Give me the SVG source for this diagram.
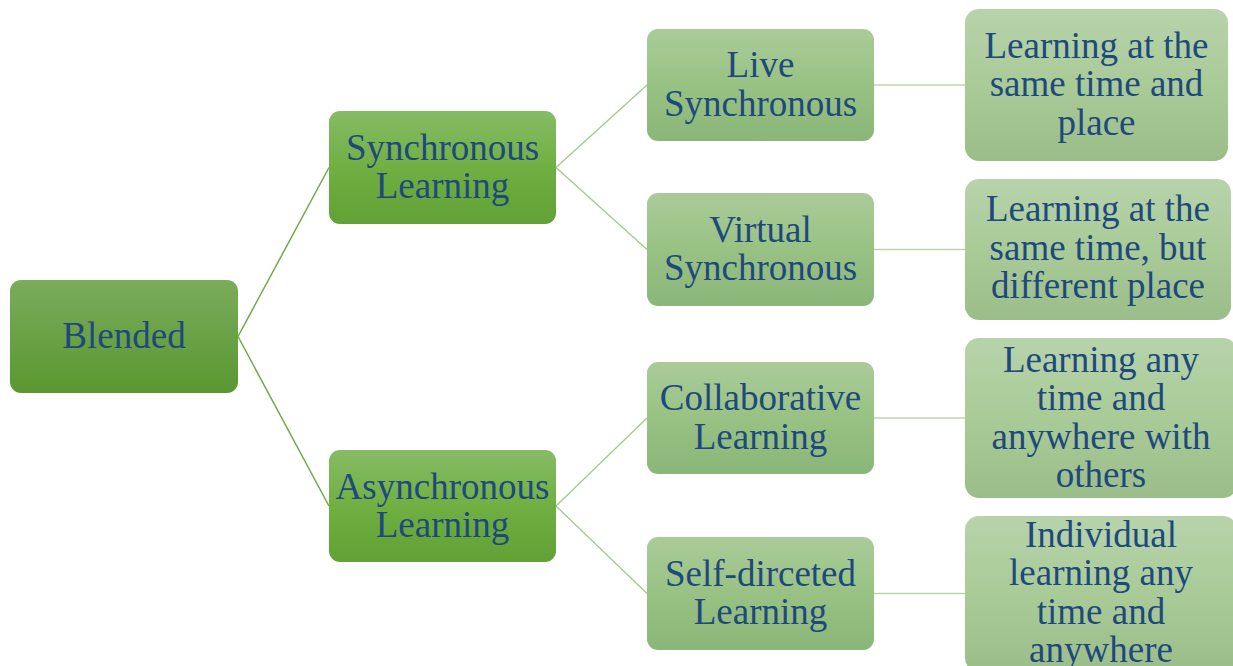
<svg xmlns="http://www.w3.org/2000/svg" width="1233" height="666" viewBox="0 0 1233 666">
<defs>
<linearGradient id="g1" x1="0" y1="0" x2="0" y2="1"><stop offset="0" stop-color="#7aac5b"/><stop offset="1" stop-color="#5a9731"/></linearGradient>
<linearGradient id="g2" x1="0" y1="0" x2="0" y2="1"><stop offset="0" stop-color="#86bb65"/><stop offset="0.5" stop-color="#70b042"/><stop offset="1" stop-color="#61a135"/></linearGradient>
<linearGradient id="g3" x1="0" y1="0" x2="0" y2="1"><stop offset="0" stop-color="#aacb99"/><stop offset="0.5" stop-color="#98c283"/><stop offset="1" stop-color="#8ab679"/></linearGradient>
<linearGradient id="g4" x1="0" y1="0" x2="0" y2="1"><stop offset="0" stop-color="#b7d3ab"/><stop offset="0.5" stop-color="#a9cb97"/><stop offset="1" stop-color="#9bbd89"/></linearGradient>
<style>
text{font-family:"Liberation Serif","Times New Roman",serif;font-size:37px;fill:#1f497d;text-anchor:middle}
.l1{fill:url(#g1)}
.l2{fill:url(#g2)}
.l3{fill:url(#g3)}
.l4{fill:url(#g4)}
.c1{stroke:#6fa94a;stroke-width:1.5;fill:none}
.c2{stroke:#a3c98c;stroke-width:1.3;fill:none}
.c3{stroke:#bcd6ae;stroke-width:1.5;fill:none}
</style>
</defs>
<g id="connectors">
<line class="c1" x1="238" y1="336.5" x2="329" y2="167.5"/>
<line class="c1" x1="238" y1="336.5" x2="329" y2="506"/>
<line class="c2" x1="556" y1="167.5" x2="647" y2="85"/>
<line class="c2" x1="556" y1="167.5" x2="647" y2="249.5"/>
<line class="c2" x1="556" y1="506" x2="647" y2="418"/>
<line class="c2" x1="556" y1="506" x2="647" y2="593.5"/>
<line class="c3" x1="874" y1="85" x2="965" y2="85"/>
<line class="c3" x1="874" y1="249.5" x2="965" y2="249.5"/>
<line class="c3" x1="874" y1="418" x2="965" y2="418"/>
<line class="c3" x1="874" y1="593.5" x2="965" y2="593.5"/>
</g>
<g id="blended">
<rect class="l1" x="10" y="280" width="228" height="113" rx="11"/>
<text x="124" y="348">Blended</text>
</g>
<g id="synchronous">
<rect class="l2" x="329" y="111" width="227" height="113" rx="11"/>
<text x="442.5" y="160">Synchronous</text>
<text x="442.5" y="198">Learning</text>
</g>
<g id="asynchronous">
<rect class="l2" x="329" y="450" width="227" height="112" rx="11"/>
<text x="442.5" y="498.5">Asynchronous</text>
<text x="442.5" y="536.5">Learning</text>
</g>
<g id="live">
<rect class="l3" x="647" y="29" width="227" height="112" rx="11"/>
<text x="760.5" y="77">Live</text>
<text x="760.5" y="115.5">Synchronous</text>
</g>
<g id="virtual">
<rect class="l3" x="647" y="193" width="227" height="113" rx="11"/>
<text x="760.5" y="241.5">Virtual</text>
<text x="760.5" y="280">Synchronous</text>
</g>
<g id="collaborative">
<rect class="l3" x="647" y="362" width="227" height="112" rx="11"/>
<text x="760.5" y="410">Collaborative</text>
<text x="760.5" y="448.5">Learning</text>
</g>
<g id="selfdirected">
<rect class="l3" x="647" y="537" width="227" height="113" rx="11"/>
<text x="760.5" y="585.5">Self-dirceted</text>
<text x="760.5" y="624">Learning</text>
</g>
<g id="desc1">
<rect class="l4" x="965" y="9" width="263" height="152" rx="14"/>
<text x="1096.5" y="57.5">Learning at the</text>
<text x="1096.5" y="96">same time and</text>
<text x="1096.5" y="134.5">place</text>
</g>
<g id="desc2">
<rect class="l4" x="965" y="179" width="266" height="141" rx="14"/>
<text x="1098" y="221">Learning at the</text>
<text x="1098" y="259.5">same time, but</text>
<text x="1098" y="298">different place</text>
</g>
<g id="desc3">
<rect class="l4" x="965" y="338" width="272" height="160" rx="14"/>
<text x="1101" y="371.5">Learning any</text>
<text x="1101" y="410">time and</text>
<text x="1101" y="448.5">anywhere with</text>
<text x="1101" y="487">others</text>
</g>
<g id="desc4">
<rect class="l4" x="965" y="516" width="272" height="156" rx="14"/>
<text x="1101" y="546.5">Individual</text>
<text x="1101" y="585">learning any</text>
<text x="1101" y="623.5">time and</text>
<text x="1101" y="662">anywhere</text>
</g>
</svg>
